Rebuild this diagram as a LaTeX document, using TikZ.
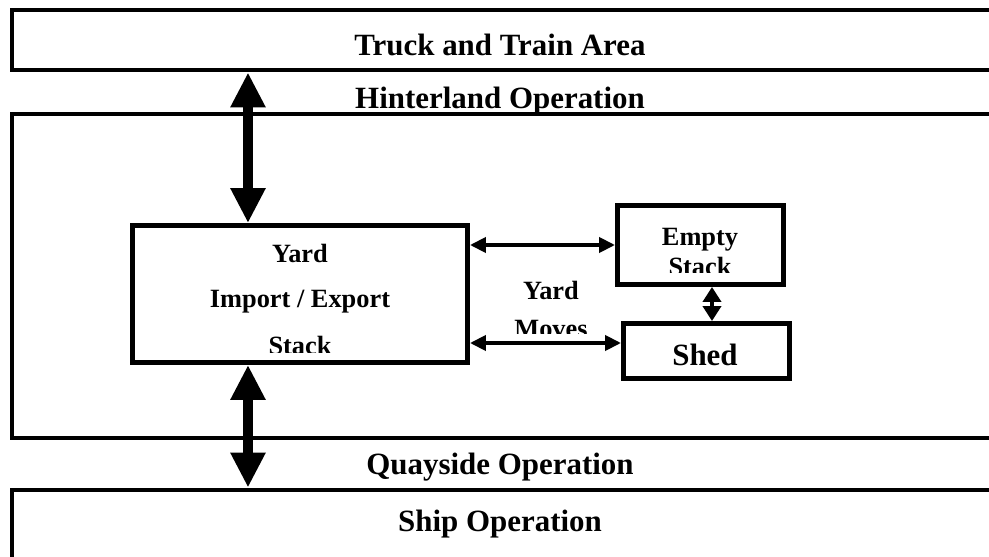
\documentclass[tikz,border=0pt]{standalone}
\usepackage{fontspec}
\setmainfont{Liberation Serif}
\usetikzlibrary{arrows.meta, positioning}

\begin{document}
\begin{tikzpicture}[
    area/.style={rectangle, draw, line width=1.4pt, minimum width=9.9cm, inner sep=0pt},
    box/.style={rectangle, draw, line width=1.4pt, inner sep=0pt},
    areatext/.style={font=\bfseries\fontsize{8.8}{10}\selectfont, inner sep=0pt},
    boxtext/.style={font=\bfseries\fontsize{7.5}{9}\selectfont, inner sep=0pt},
    flowarrow/.style={{Triangle[width=0.33cm,length=0.35cm]}-{Triangle[width=0.33cm,length=0.35cm]}, line width=2.85pt},
    movearrow/.style={{Triangle[width=0.15cm,length=0.16cm]}-{Triangle[width=0.15cm,length=0.16cm]}, line width=1.1pt},
    linkarrow/.style={{Triangle[width=0.18cm,length=0.15cm]}-{Triangle[width=0.18cm,length=0.15cm]}, line width=1.1pt}
]
\clip (0,0) rectangle (9.89,-5.57);

% terminal areas
\node[area, minimum height=0.60cm] (truck) at (5.07,-0.40) {};
\node[area, minimum height=3.24cm] (terminal) at (5.07,-2.76) {};
\node[area, minimum height=1.10cm] (ship) at (5.07,-5.45) {};
\node[areatext, anchor=base] (trucklabel) at (5.0,-0.56) {Truck and Train Area};
\node[areatext, anchor=base] (hinterland) at (5.0,-1.09) {Hinterland Operation};
\node[areatext, anchor=base] (quayside) at (5.0,-4.75) {Quayside Operation};
\node[areatext, anchor=base] (shiplabel) at (5.0,-5.32) {Ship Operation};

% yard
\node[box, minimum width=3.35cm, minimum height=1.37cm] (yard) at (3.0,-2.94) {};
\node[box, minimum width=1.66cm, minimum height=0.79cm] (empty) at (7.005,-2.45) {};
\node[box, minimum width=1.66cm, minimum height=0.55cm] (shed) at (7.065,-3.51) {};

\node[boxtext, anchor=base] (yardtitle) at (3.0,-2.63) {Yard};
\node[boxtext, anchor=base] (yardio) at (3.0,-3.08) {Import / Export};
\node[boxtext, anchor=base] (emptytitle) at (7.0,-2.45) {Empty};
\node[boxtext, anchor=base] (movestitle) at (5.51,-3.0) {Yard};
\node[areatext, anchor=base] (shedlabel) at (7.05,-3.65) {Shed};
\begin{scope}
  \clip (1.4,-3.30) rectangle (4.6,-3.52);
  \node[boxtext, anchor=base] (yardstack) at (3.0,-3.55) {Stack};
\end{scope}
\begin{scope}
  \clip (6.3,-2.52) rectangle (7.7,-2.72);
  \node[boxtext, anchor=base] (emptystack) at (7.0,-2.75) {Stack};
\end{scope}
\begin{scope}
  \clip (5.0,-3.15) rectangle (6.0,-3.33);
  \node[boxtext, anchor=base] (movesline) at (5.51,-3.38) {Moves};
\end{scope}

% connectors
\coordinate (lift) at (2.48,0);
\coordinate (lowin) at ([yshift=0.8mm]shed.west);
\coordinate (drop) at (7.12,0);
\draw[flowarrow] (truck.south -| lift) -- (yard.north -| lift);
\draw[flowarrow] (yard.south -| lift) -- (ship.north -| lift);
\draw[movearrow] (yard.east |- empty.west) -- (empty.west);
\draw[movearrow] (yard.east |- lowin) -- (lowin);
\draw[linkarrow] (empty.south -| drop) -- (shed.north -| drop);
\end{tikzpicture}
\end{document}
